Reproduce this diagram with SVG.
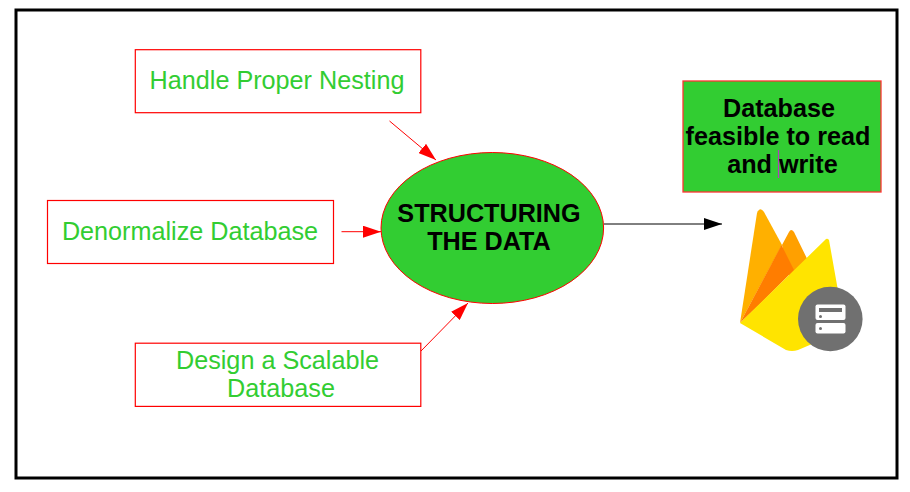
<svg xmlns="http://www.w3.org/2000/svg" width="910" height="492" viewBox="0 0 910 492">
<style>
text{font-family:"Liberation Sans",Arial,sans-serif;text-anchor:middle}
.g{font-size:25.2px;fill:#32cd32}
.b{font-size:25.2px;font-weight:bold;fill:#000}
.box{fill:#fff;stroke:#f00;stroke-width:1.200}
.c{stroke:#f00;stroke-width:1;fill:none}
</style>
<defs>
<marker id="ar" markerUnits="userSpaceOnUse" markerWidth="18" markerHeight="12" refX="18" refY="6" orient="auto"><path d="M0 0L18 6L0 12Z" fill="#f00"/></marker>
<marker id="ak" markerUnits="userSpaceOnUse" markerWidth="18" markerHeight="12" refX="18" refY="6" orient="auto"><path d="M0 0L18 6L0 12Z" fill="#000"/></marker>
</defs>
<rect width="910" height="492" fill="#fff"/>
<rect id="frame" x="16" y="10" width="881" height="468" fill="#fff" stroke="#000" stroke-width="3"/>
<g id="connectors">
<line class="c" x1="389.500" y1="121" x2="436" y2="160" marker-end="url(#ar)"/>
<line class="c" x1="341.500" y1="231.700" x2="381" y2="231.700" marker-end="url(#ar)"/>
<line class="c" x1="421" y1="351" x2="468" y2="303" marker-end="url(#ar)"/>
<line x1="604" y1="224" x2="722" y2="224" stroke="#000" stroke-width="1" marker-end="url(#ak)"/>
</g>
<g id="node-nesting">
<rect class="box" x="135.300" y="49.700" width="285.500" height="63"/>
<text class="g" x="277" y="89">Handle Proper Nesting</text>
</g>
<g id="node-denormalize">
<rect class="box" x="47.500" y="200.500" width="286" height="63"/>
<text class="g" x="190" y="240">Denormalize Database</text>
</g>
<g id="node-scalable">
<rect class="box" x="135.300" y="343.200" width="285.500" height="63.200"/>
<text class="g" x="277.500" y="369">Design a Scalable</text>
<text class="g" x="281" y="397">Database</text>
</g>
<g id="node-structuring">
<ellipse cx="492.300" cy="228" rx="111.300" ry="75.500" fill="#32cd32" stroke="#f00" stroke-width="1"/>
<text class="b" x="489" y="222">STRUCTURING</text>
<text class="b" x="489" y="250">THE DATA</text>
</g>
<g id="node-feasible">
<rect x="683" y="81" width="198" height="111" fill="#32cd32" stroke="#f33" stroke-width="1.300"/>
<text class="b" x="779" y="117">Database</text>
<text class="b" x="778" y="145">feasible to read</text>
<text class="b" x="782.500" y="173">and write</text>
<line x1="778.500" y1="150" x2="778.500" y2="178" stroke="#b03fc0" stroke-width="1.200"/>
</g>
<g id="firebase-icon">
<path d="M740 323L757 213Q760 206 764 212L782 245Z" fill="#ffb000"/>
<path d="M782 245L789 232Q791 228 794 232L838 322L800 322Z" fill="#ffa000"/>
<path d="M740 323L781.500 245L794 270L762 302Z" fill="#ff7d00"/>
<path d="M740 323L825 240Q827 237.500 829 240L845 330L798 350Q792 352 786 350Z" fill="#ffe400"/>
<circle cx="830.300" cy="319" r="32.300" fill="#707070"/>
<rect x="815.500" y="304.500" width="30" height="15.500" rx="2" fill="#fff"/>
<rect x="815.500" y="323" width="30" height="10.500" rx="2" fill="#fff"/>
<rect x="819" y="308" width="23" height="4" fill="#707070"/>
<circle cx="820.500" cy="316.500" r="1.500" fill="#707070"/>
<circle cx="820.500" cy="328.500" r="1.500" fill="#707070"/>
</g>
</svg>
